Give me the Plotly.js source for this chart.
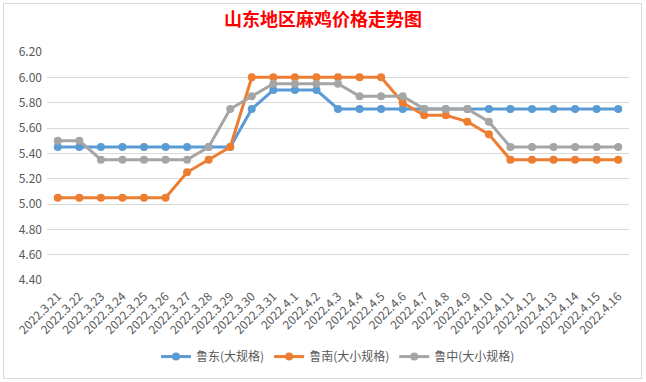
<!DOCTYPE html>
<html>
<head>
<meta charset="utf-8">
<script src="https://cdn.plot.ly/plotly-3.0.1.min.js"></script>
<style>
  html, body { margin: 0; padding: 0; background: #ffffff; }
  #wrap { position: relative; width: 646px; height: 382px; overflow: hidden; }
  #chart { position: absolute; left: 0; top: 0; width: 646px; height: 382px; }
  #frame { position: absolute; left: 3px; top: 3px; width: 637px; height: 374px;
           border: 1px solid #d9d9d9; pointer-events: none; }
</style>
</head>
<body>
<div id="wrap">
  <div id="chart"></div>
  <div id="frame"></div>
</div>
<script>
const dates = ["2022.3.21","2022.3.22","2022.3.23","2022.3.24","2022.3.25","2022.3.26","2022.3.27","2022.3.28","2022.3.29","2022.3.30","2022.3.31",
  "2022.4.1","2022.4.2","2022.4.3","2022.4.4","2022.4.5","2022.4.6","2022.4.7","2022.4.8","2022.4.9","2022.4.10","2022.4.11","2022.4.12","2022.4.13","2022.4.14","2022.4.15","2022.4.16"];
const ludong = [5.45,5.45,5.45,5.45,5.45,5.45,5.45,5.45,5.45,5.75,5.90,5.90,5.90,5.75,5.75,5.75,5.75,5.75,5.75,5.75,5.75,5.75,5.75,5.75,5.75,5.75,5.75];
const lunan  = [5.05,5.05,5.05,5.05,5.05,5.05,5.25,5.35,5.45,6.00,6.00,6.00,6.00,6.00,6.00,6.00,5.80,5.70,5.70,5.65,5.55,5.35,5.35,5.35,5.35,5.35,5.35];
const luzhong= [5.50,5.50,5.35,5.35,5.35,5.35,5.35,5.45,5.75,5.85,5.95,5.95,5.95,5.95,5.85,5.85,5.85,5.75,5.75,5.75,5.65,5.45,5.45,5.45,5.45,5.45,5.45];
const seriesNames = ["鲁东(大规格)","鲁南(大小规格)","鲁中(大小规格)"];
const colors = ["#5B9BD5","#ED7D31","#A5A5A5"];
const yTicks = [4.40,4.60,4.80,5.00,5.20,5.40,5.60,5.80,6.00,6.20];

const font = "'Noto Sans CJK SC', 'Noto Sans', sans-serif";
const idx = dates.map((d, i) => i);
const data = [ludong, lunan, luzhong].map((vals, k) => ({
  type: 'scatter', mode: 'lines+markers',
  x: idx, y: vals, name: seriesNames[k],
  line: { color: colors[k], width: 3 },
  marker: { color: colors[k], size: 8 }
}));

const layout = {
  width: 646, height: 382,
  margin: { l: 47, r: 17, t: 52, b: 101 },
  paper_bgcolor: '#ffffff', plot_bgcolor: '#ffffff',
  font: { family: font, color: '#595959', size: 11 },
  title: { text: '山东地区麻鸡价格走势图', x: 0.5, xanchor: 'center', y: 0.948, yanchor: 'middle',
           yref: 'container', font: { family: font, color: '#FF0000', size: 18, weight: 'bold' } },
  xaxis: {
    type: 'linear', range: [-0.5, 26.5], tickmode: 'array', tickvals: idx, ticktext: dates,
    tickangle: -45, showgrid: false, zeroline: false, showline: false, ticks: '',
    tickfont: { family: font, size: 12, color: '#595959' }, ticklabelstandoff: 6, fixedrange: true
  },
  yaxis: {
    range: [4.4, 6.2], tickmode: 'array', tickvals: yTicks, ticktext: yTicks.map(v => v.toFixed(2)),
    showgrid: true, gridcolor: '#d9d9d9', gridwidth: 1, zeroline: false, showline: false, ticks: '',
    tickfont: { family: font, size: 12, color: '#595959' }, ticklabelstandoff: 4, fixedrange: true
  },
  showlegend: true,
  legend: { orientation: 'h', x: 0.5, xanchor: 'center', y: -0.33, yanchor: 'middle',
            font: { family: font, size: 12, color: '#595959' }, itemwidth: 30, tracegroupgap: 0 },
};
Plotly.newPlot('chart', data, layout, { displayModeBar: false, staticPlot: true });
</script>
</body>
</html>
